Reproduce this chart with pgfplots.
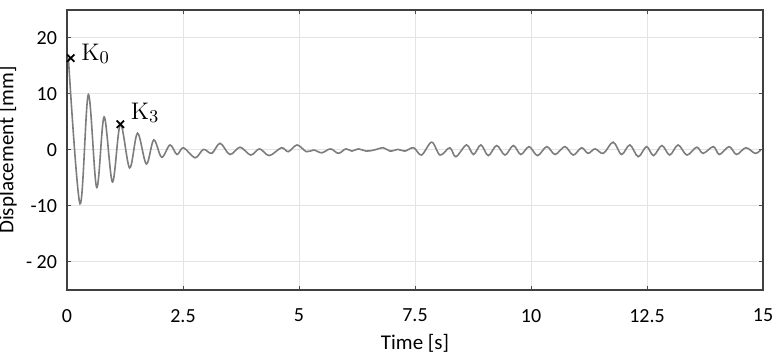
\documentclass[border=0pt]{standalone}
\usepackage[no-math]{fontspec}
\setmainfont{Carlito}
\usepackage{pgfplots}
\pgfplotsset{compat=1.18}
\definecolor{sig}{RGB}{125,125,125}
\definecolor{gridc}{RGB}{228,228,228}

\begin{document}
\fontsize{10}{12}\selectfont
\begin{tikzpicture}
\begin{axis}[
  scale only axis, width=348pt, height=140pt,
  xmin=0, xmax=15, ymin=-25, ymax=25,
  xtick={0,2.5,5,7.5,10,12.5,15},
  xticklabels={0,2.5,5,7.5,10,12.5,15},
  ytick={-20,-10,0,10,20},
  yticklabels={- 20,-10,0,10,20},
  tick label style={font=\fontsize{10}{12}\selectfont},
  xticklabel style={yshift=-6pt},
  yticklabel style={xshift=-1.5pt},
  xlabel={Time [s]}, ylabel={Displacement [mm]},
  xlabel style={font=\fontsize{10.5}{12}\selectfont, yshift=1pt},
  ylabel style={font=\fontsize{10.5}{12}\selectfont,
    at={(axis description cs:-0.062,0.5)}, anchor=south},
  grid=major, grid style={gridc, line width=0.5pt},
  tick align=inside, major tick length=2pt,
  tick style={black!70, line width=0.5pt},
  axis line style={black!75, line width=0.6pt},
  clip=false,
]
\addplot[sig, line width=0.8pt, smooth, tension=0.55] coordinates {
(0.03,16.4) (0.28,-9.6) (0.46,9.9) (0.64,-6.7) (0.80,5.9)
(0.98,-5.7) (1.15,4.6) (1.35,-3.2) (1.52,3.0) (1.71,-2.5) (1.87,1.8)
(2.04,-1.3) (2.22,0.9) (2.37,-0.8) (2.51,0.4) (2.76,-1.4) (2.94,0.1)
(3.12,-0.6) (3.30,1.2) (3.51,-0.8) (3.73,0.5) (3.96,-0.9) (4.15,0.2)
(4.36,-1.0) (4.62,0.4) (4.77,-0.3) (4.96,0.9) (5.16,-0.3) (5.32,0.0)
(5.49,-0.5) (5.68,0.2) (5.85,-0.6) (6.01,0.2) (6.14,-0.2) (6.28,0.2)
(6.45,-0.2) (6.62,0.0) (6.82,0.4) (6.96,-0.2) (7.14,0.1) (7.28,-0.2)
(7.47,0.4) (7.64,-0.9) (7.86,1.4) (8.04,-0.9) (8.25,0.4) (8.38,-1.2)
(8.61,0.9) (8.76,-0.8) (8.92,0.9) (9.08,-1.0) (9.26,0.8) (9.44,-0.9)
(9.62,0.8) (9.78,-0.8) (9.96,0.6) (10.14,-1.0) (10.34,0.6) (10.52,-0.8)
(10.73,0.6) (10.91,-0.9) (11.09,0.4) (11.23,-0.6) (11.38,0.2) (11.56,-0.6)
(11.77,1.4) (11.95,-0.8) (12.13,0.9) (12.31,-1.2) (12.49,0.6) (12.64,-1.0)
(12.82,0.8) (12.99,-0.9) (13.17,0.9) (13.36,-0.9) (13.57,0.5) (13.71,-0.6)
(13.93,0.6) (14.06,-0.8) (14.27,0.6) (14.43,-0.8) (14.63,0.4) (14.83,-0.6)
(14.95,0.0)
};
\addplot[only marks, mark=x, mark size=2.6pt, black, line width=0.9pt,
  nodes near coords={$\mathrm{K}_0$},
  nodes near coords style={anchor=base west, xshift=1.5pt, yshift=-1pt,
    font=\fontsize{12.5}{14}\selectfont, black}]
  coordinates {(0.08,16.4)};
\addplot[only marks, mark=x, mark size=2.6pt, black, line width=0.9pt,
  nodes near coords={$\mathrm{K}_3$},
  nodes near coords style={anchor=base west, xshift=1.5pt, yshift=2.5pt,
    font=\fontsize{12.5}{14}\selectfont, black}]
  coordinates {(1.15,4.6)};
\end{axis}
\pgfresetboundingbox
\path[use as bounding box] ([xshift=-33.5pt,yshift=-36pt]current axis.south west)
  rectangle ([xshift=8.5pt,yshift=5pt]current axis.north east);
\end{tikzpicture}
\end{document}
